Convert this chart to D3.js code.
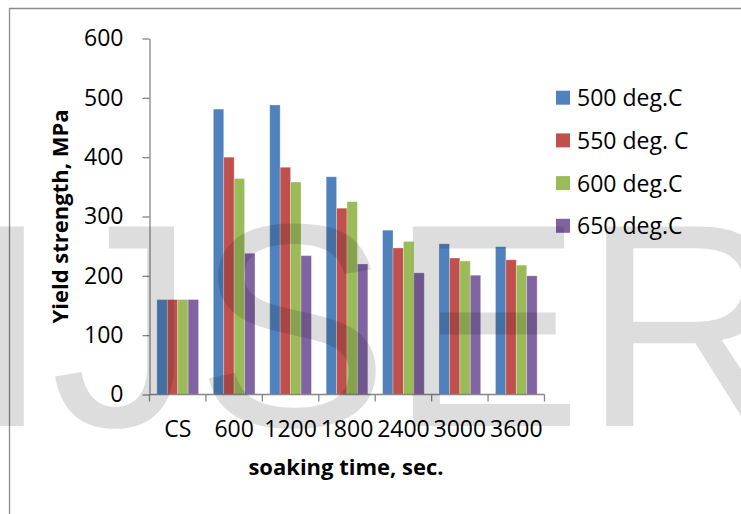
<!DOCTYPE html>
<html>
<head>
<meta charset="utf-8">
<script src="https://cdn.jsdelivr.net/npm/d3@7"></script>
<style>
  html, body { margin: 0; padding: 0; background: #fff; }
  svg { display: block; }
  text { fill: #000; }
</style>
</head>
<body>
<svg id="chart" width="741" height="514"></svg>
<script>
// Yield strength after soaking at different temperatures
const categories = ["CS", "600", "1200", "1800", "2400", "3000", "3600"];
const seriesNames = ["500 deg.C", "550 deg. C", "600 deg.C", "650 deg.C"];
const series500 = [160, 481, 488, 367, 277, 254, 249];
const series550 = [160, 400, 383, 314, 247, 230, 227];
const series600 = [160, 364, 358, 325, 258, 225, 218];
const series650 = [160, 238, 234, 220, 205, 201, 200];
const yTicks = [0, 100, 200, 300, 400, 500, 600];
const colors = ["#4F81BD", "#C0504D", "#9BBB59", "#8064A2"];

const seriesValues = [series500, series550, series600, series650];
const labelFont = "'Open Sans', 'Noto Sans', sans-serif";

const svg = d3.select("#chart");
const W = 741, H = 514;
const plot = { left: 149.5, right: 544.5, top: 38.5, bottom: 394.5 };

// chart frame
svg.append("path")
  .attr("d", `M9.5,${H}V8.5H${W}`)
  .attr("fill", "none")
  .attr("stroke", "#8a8a8a")
  .attr("stroke-width", 1.3);

const x0 = d3.scaleBand()
  .domain(categories)
  .range([plot.left, plot.right])
  .paddingInner(0.262)
  .paddingOuter(0.131);

const x1 = d3.scaleBand()
  .domain(seriesNames)
  .range([0, x0.bandwidth()]);

const y = d3.scaleLinear()
  .domain([0, 600])
  .range([plot.bottom, plot.top]);

// bars
const groups = svg.append("g").selectAll("g")
  .data(categories)
  .join("g")
  .attr("transform", d => `translate(${x0(d)},0)`);

groups.selectAll("rect")
  .data((c, ci) => seriesNames.map((s, si) => ({ s, si, v: seriesValues[si][ci] })))
  .join("rect")
  .attr("x", d => x1(d.s))
  .attr("y", d => y(d.v))
  .attr("width", x1.bandwidth())
  .attr("height", d => y(0) - y(d.v))
  .attr("fill", d => colors[d.si])
  .attr("stroke", "rgba(255,255,255,0.35)")
  .attr("stroke-width", 0.8);

// y axis
const yAxis = svg.append("g")
  .attr("transform", `translate(${plot.left},0)`)
  .call(d3.axisLeft(y).tickValues(yTicks).tickSizeInner(7).tickSizeOuter(0).tickPadding(19));
yAxis.selectAll("path, line").attr("stroke", "#868686").attr("stroke-width", 1.3);
yAxis.selectAll("text").style("font-size", "23px").style("font-family", labelFont).style("fill", "#000");

// x axis: labels at category centres, ticks on category boundaries
const xAxis = svg.append("g")
  .attr("transform", `translate(0,${plot.bottom})`)
  .call(d3.axisBottom(x0).tickSize(0).tickPadding(26));
xAxis.select(".domain").remove();
xAxis.selectAll("text").style("font-size", "23px").style("font-family", labelFont).style("fill", "#000");

const step = x0.step();
const bounds = categories.map(c => x0(c) - (step - x0.bandwidth()) / 2).concat([plot.right]);
svg.append("line")
  .attr("x1", plot.left).attr("x2", plot.right)
  .attr("y1", plot.bottom).attr("y2", plot.bottom)
  .attr("stroke", "#868686").attr("stroke-width", 1.3);
svg.append("g").selectAll("line")
  .data(bounds)
  .join("line")
  .attr("x1", d => d).attr("x2", d => d)
  .attr("y1", plot.bottom).attr("y2", plot.bottom + 7)
  .attr("stroke", "#868686").attr("stroke-width", 1.3);

// axis titles
svg.append("text")
  .attr("transform", "translate(68,216.5) rotate(-90)")
  .attr("text-anchor", "middle")
  .style("font-family", labelFont)
  .style("font-weight", "bold")
  .style("font-size", "22px")
  .text("Yield strength, MPa");

svg.append("text")
  .attr("x", 346).attr("y", 475)
  .attr("text-anchor", "middle")
  .style("font-family", labelFont)
  .style("font-weight", "bold")
  .style("font-size", "22px")
  .text("soaking time, sec.");

// legend
const legend = svg.append("g").selectAll("g")
  .data(seriesNames)
  .join("g")
  .attr("transform", (d, i) => `translate(556,${97.7 + i * 42.7})`);
legend.append("rect")
  .attr("x", 0).attr("y", -7).attr("width", 14).attr("height", 14)
  .attr("fill", (d, i) => colors[i]);
legend.append("text")
  .attr("x", 21).attr("y", 8.5)
  .style("font-family", labelFont)
  .style("font-size", "23px")
  .text(d => d);

// watermark
svg.append("text")
  .attr("x", -30).attr("y", 426)
  .style("font-family", "'Liberation Sans', Arial, sans-serif")
  .style("font-size", "290px")
  .style("fill", "#000")
  .style("fill-opacity", 0.135)
  .style("pointer-events", "none")
  .text("IJSER");
</script>
</body>
</html>
